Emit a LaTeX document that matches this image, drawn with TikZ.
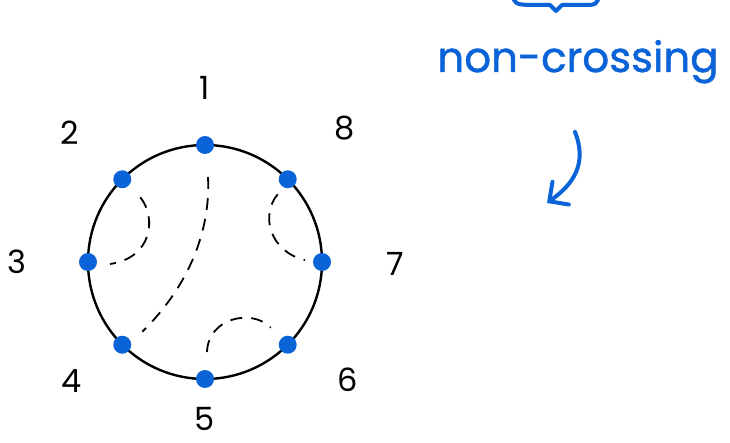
\documentclass[tikz,border=0pt]{standalone}
\usepackage{fontspec}
\setmainfont{Poppins}
\newfontfamily\penfont[FakeBold=1.2]{Poppins}
\usetikzlibrary{calc}
\usetikzlibrary{arrows.meta}
\definecolor{penblue}{RGB}{11,99,216}

\begin{document}
\begin{tikzpicture}[x=1pt,y=-1pt,inner sep=0pt,
  dot/.style={circle,fill=penblue,minimum size=18pt},
  num/.style={font=\fontsize{32}{32}\selectfont},
  chord/.style={line width=1.8pt,dash pattern=on 12pt off 9pt}]
\useasboundingbox (0,0) rectangle (730,443);
\def\r{117}
\coordinate (o) at (205,262);
\draw[line width=2.4pt] (o) circle (\r);

% y points down, so angles run clockwise
\node[dot] (p1) at ($(o)+(-90:\r)$) {};
\node[dot] (p2) at ($(o)+(-135:\r)$) {};
\node[dot] (p3) at ($(o)+(180:\r)$) {};
\node[dot] (p4) at ($(o)+(135:\r)$) {};
\node[dot] (p5) at ($(o)+(90:\r)$) {};
\node[dot] (p6) at ($(o)+(45:\r)$) {};
\node[dot] (p7) at ($(o)+(0:\r)$) {};
\node[dot] (p8) at ($(o)+(-45:\r)$) {};

\node[num] (l1) at (205,88) {1};
\node[num] (l2) at (70,133) {2};
\node[num] (l3) at (17,262) {3};
\node[num] (l4) at (72,381) {4};
\node[num] (l5) at (205,419) {5};
\node[num] (l6) at (348,380) {6};
\node[num] (l7) at (395,264) {7};
\node[num] (l8) at (345,128) {8};

% pairing
\draw[chord] ($(p2)+(18,18)$) .. controls (157,218) and (152,258) .. ($(p3)+(22,2)$);
\draw[chord] ($(p1)+(3,32)$) .. controls (211,235) and (185,290) .. ($(p4)+(20,-13)$);
\draw[chord] ($(p8)+(-10,15)$) .. controls (260,215) and (270,252) .. ($(p7)+(-17,-2)$);
\draw[chord] ($(p5)+(2,-27)$) .. controls (208,318) and (252,308) .. ($(p6)+(-17,-17)$);

\node[text=penblue,font=\penfont\fontsize{42}{42}\selectfont,anchor=base] (nc) at (578,72) {non-crossing};
\draw[penblue,line width=4pt,line cap=round,line join=round]
  (514,0) .. controls (516,5) and (522,5) .. (540,5) -- (550,5) -- (556,11)
  -- (562,5) -- (588,5) .. controls (595,5) and (597,3) .. (598,0);
\coordinate (tip) at (547,203);
\draw[penblue,line width=4pt,line cap=round,-{Straight Barb[length=14pt,width=28pt,line cap=round]}]
  (575,132) .. controls (588,165) and (572,185) .. (tip);
\end{tikzpicture}
\end{document}
